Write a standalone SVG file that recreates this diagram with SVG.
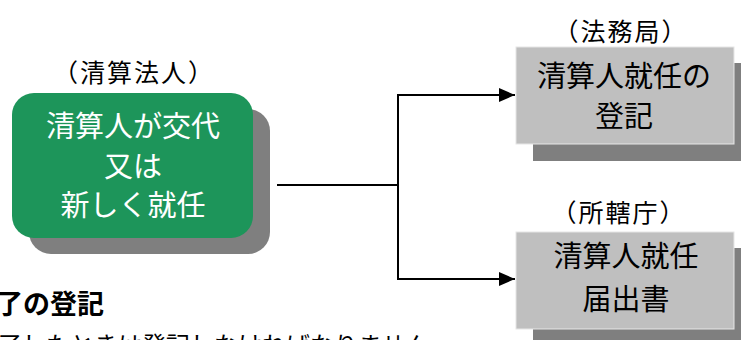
<svg xmlns="http://www.w3.org/2000/svg" width="741" height="340" viewBox="0 0 741 340">
  <defs>
    <marker id="arrow" viewBox="0 0 16 14" refX="16" refY="7" markerWidth="16" markerHeight="14" markerUnits="userSpaceOnUse" orient="auto">
      <path d="M0,0 L16,7 L0,14 Z" fill="#000"/>
    </marker>
    <style>
      text { font-family: "Liberation Serif", "Noto Sans CJK JP", serif; text-anchor: middle; }
      .label { font-size: 25px; letter-spacing: 2px; fill: #000; }
      .wtext { font-size: 29px; fill: #fff; }
      .btext { font-size: 29px; fill: #000; }
      .shadow { fill: #7f7f7f; }
      .gbox { fill: #bfbfbf; stroke: #e6e6e6; stroke-width: 1; }
      .conn { fill: none; stroke: #000; stroke-width: 2; }
      .head { font-family: "Liberation Sans", "Noto Sans CJK JP", sans-serif; font-size: 27px; font-weight: bold; text-anchor: start; }
      .body { font-size: 24px; text-anchor: start; fill: #000; }
    </style>
  </defs>
  <rect width="741" height="340" fill="#fff"/>

  <g id="connectors">
    <polyline class="conn" points="277,185 398,185"/>
    <polyline class="conn" points="398,95 398,279"/>
    <polyline class="conn" points="397,95 515,95" marker-end="url(#arrow)"/>
    <polyline class="conn" points="397,279 515,279" marker-end="url(#arrow)"/>
  </g>

  <g id="liquidator">
    <text class="label" x="134" y="82">（清算法人）</text>
    <rect class="shadow" x="29" y="109" width="241" height="145" rx="22"/>
    <rect x="12" y="93" width="241" height="145" rx="22" fill="#1d955a"/>
    <text class="wtext" x="133" y="137">清算人が交代</text>
    <text class="wtext" x="133" y="177">又は</text>
    <text class="wtext" x="133" y="216">新しく就任</text>
  </g>

  <g id="registry">
    <text class="label" x="621" y="41">（法務局）</text>
    <rect class="shadow" x="533" y="63" width="218" height="98"/>
    <rect class="gbox" x="516" y="47" width="218" height="97"/>
    <text class="btext" x="624" y="87">清算人就任の</text>
    <text class="btext" x="624" y="127">登記</text>
  </g>

  <g id="office">
    <text class="label" x="619" y="222">（所轄庁）</text>
    <rect class="shadow" x="533" y="248" width="218" height="98"/>
    <rect class="gbox" x="516" y="232" width="218" height="97"/>
    <text class="btext" x="626" y="267">清算人就任</text>
    <text class="btext" x="626" y="310">届出書</text>
  </g>

  <g id="bottom-text">
    <text class="head" x="-4" y="314">了の登記</text>
    <text class="body" x="-2" y="354">了したときは登記しなければなりません</text>
  </g>
</svg>
